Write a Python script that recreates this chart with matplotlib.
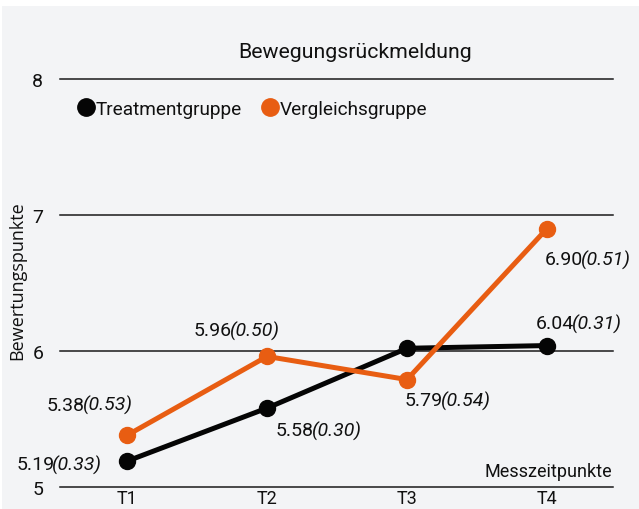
import matplotlib
matplotlib.use("Agg")
import matplotlib.pyplot as plt
from matplotlib.lines import Line2D
from matplotlib.patches import Rectangle

# ---- data ----
categories = ["T1", "T2", "T3", "T4"]
treatment_means = [5.19, 5.58, 6.02, 6.04]
treatment_sds = [0.33, 0.30, None, 0.31]
vergleich_means = [5.38, 5.96, 5.79, 6.90]
vergleich_sds = [0.53, 0.50, 0.54, 0.51]
y_ticks = [5, 6, 7, 8]
series_names = ["Treatmentgruppe", "Vergleichsgruppe"]
title = "Bewegungsrückmeldung"
x_label = "Messzeitpunkte"
y_label = "Bewertungspunkte"

# ---- style ----
plt.rcParams["font.family"] = ["Roboto", "DejaVu Sans"]

BLACK = "#050505"
ORANGE = "#e85d12"
BG = "#f3f4f6"
TXT = "#111111"
FS = 13

W, H = 639, 510
fig = plt.figure(figsize=(W / 100, H / 100), dpi=100)
fig.patch.set_facecolor("white")
fig.patches.append(Rectangle((2 / W, 0), 1, (H - 7) / H, transform=fig.transFigure,
                             facecolor=BG, edgecolor="none", zorder=-10))

ax = fig.add_axes([60 / W, 22 / H, (613 - 60) / W, (488 - 80) / H])
ax.set_facecolor("none")
for s in ax.spines.values():
    s.set_visible(False)

x = list(range(len(categories)))
ax.set_xlim(-67 / 140, (613 - 127) / 140)
ax.set_ylim(5, 8)
for yv in y_ticks:
    ax.axhline(yv, color="#1a1a1a", lw=1.1, zorder=1, clip_on=False)

ax.set_yticks(y_ticks)
ax.set_yticklabels([str(v) for v in y_ticks], fontsize=FS + 1, color=TXT)
ax.set_xticks(x)
ax.set_xticklabels(categories, fontsize=FS, color=TXT)
ax.tick_params(axis="y", length=0, pad=12)
ax.tick_params(axis="x", length=0, pad=1.5)

ax.plot(x, treatment_means, color=BLACK, lw=3.6, marker="o", ms=11.5,
        solid_capstyle="round", zorder=3, clip_on=False)
ax.plot(x, vergleich_means, color=ORANGE, lw=3.6, marker="o", ms=11.5,
        solid_capstyle="round", zorder=4, clip_on=False)

# label offsets (points) of the split between mean and (sd)
treat_off = [(-53, -2), (33, -16), None, (19, 16)]
verg_off = [(-31, 22), (-26, 19), (25, -15), (25, -22)]
LFS = 14


def put_label(xi, m, sd, off):
    if sd is None or off is None:
        return
    ax.annotate(f"{m:.2f}", (xi, m), xytext=(off[0] + 0.6, off[1]), textcoords="offset points",
                ha="right", va="center", fontsize=LFS, color=TXT, zorder=6)
    ax.annotate(f"({sd:.2f})", (xi, m), xytext=(off[0] - 0.8, off[1]), textcoords="offset points",
                ha="left", va="center", fontsize=LFS, style="italic",
                color=TXT, zorder=6)


for xi, m, sd, off in zip(x, treatment_means, treatment_sds, treat_off):
    put_label(xi, m, sd, off)
for xi, m, sd, off in zip(x, vergleich_means, vergleich_sds, verg_off):
    put_label(xi, m, sd, off)

handles = [Line2D([], [], color=BLACK, marker="o", ls="none", ms=12.5),
           Line2D([], [], color=ORANGE, marker="o", ls="none", ms=12.5)]
leg = ax.legend(handles, series_names, loc="center left", ncol=2, frameon=False,
                bbox_to_anchor=(19 / (613 - 60), 1 - 30 / 408), fontsize=13.7,
                handlelength=0.75, handletextpad=0.1, columnspacing=1.15,
                borderaxespad=0, borderpad=0)
for t in leg.get_texts():
    t.set_color(TXT)

fig.text(355 / W, 1 - 52 / H, title, ha="center", va="center", fontsize=15.3, color=TXT)
fig.text(612 / W, 1 - 472 / H, x_label, ha="right", va="center", fontsize=FS, color=TXT)
fig.text(17 / W, 1 - 281 / H, y_label, ha="center", va="center", rotation=90,
         fontsize=13, color=TXT, family=["Open Sans", "DejaVu Sans"])

fig.savefig("out.png", dpi=100, facecolor=fig.get_facecolor())
